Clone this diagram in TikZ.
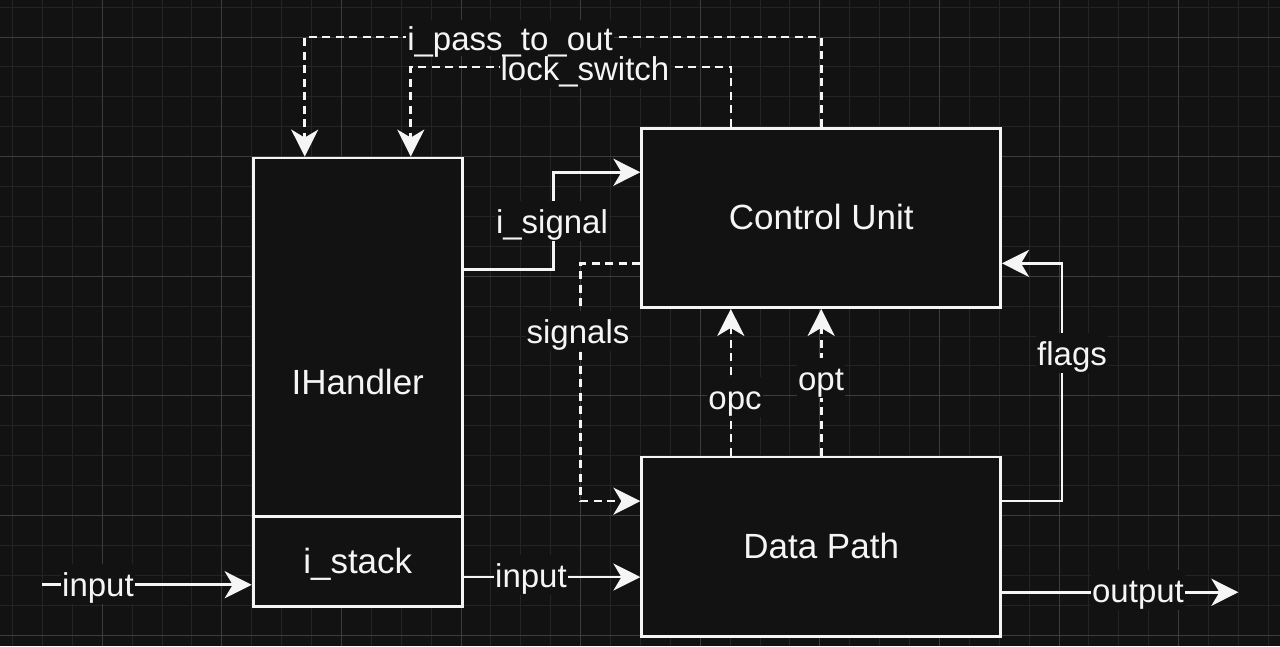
\documentclass[tikz,border=0pt]{standalone}
\usepackage{fontspec}
\setmainfont{Liberation Sans}
\usetikzlibrary{arrows.meta,calc}
\definecolor{bg}{RGB}{18,18,18}
\definecolor{gridminor}{RGB}{36,36,36}
\definecolor{gridmajor}{RGB}{60,60,60}
\definecolor{fg}{RGB}{245,245,245}
\begin{document}
\begin{tikzpicture}[x=1pt,y=-1pt,
  box/.style={draw=fg, fill=bg, line width=2.8pt, text=fg, font=\fontsize{35}{42}\selectfont,
    anchor=north west, inner sep=0pt, text height=31.2pt, text depth=7pt},
  lbl/.style={fill=bg, text=fg, font=\fontsize{33}{40}\selectfont, inner xsep=1pt, inner ysep=1pt,
    text height=30.8pt, text depth=6.6pt},
  sline/.style={draw=fg, line width=2.6pt, -{Stealth[length=27pt,width=27pt,inset=8pt]}},
  dline/.style={sline, dash pattern=on 8pt off 5.5pt},
  gmin/.style={draw=gridminor, line width=1pt},
  gmaj/.style={draw=gridmajor, line width=1pt},
]
\useasboundingbox (0,0) rectangle (1280,646);
\fill[bg] (0,0) rectangle (1280,646);
% grid
\foreach \k in {0,...,42}{
  \pgfmathsetmacro\gx{12.5+29.9*\k}
  \draw[gmin] (\gx,0) -- (\gx,646);
}
\foreach \k in {0,...,21}{
  \pgfmathsetmacro\gy{7.1+29.9*\k}
  \draw[gmin] (0,\gy) -- (1280,\gy);
}
\foreach \k in {3,7,...,39}{
  \pgfmathsetmacro\gx{12.5+29.9*\k}
  \draw[gmaj] (\gx,0) -- (\gx,646);
}
\foreach \k in {0,...,5}{
  \pgfmathsetmacro\gy{37+119.6*\k}
  \draw[gmaj] (0,\gy) -- (1280,\gy);
}
% boxes
\node[box, minimum width=209.3pt, minimum height=448.4pt] (ih) at (251.7,156.6) {IHandler};
\node[box, minimum width=209.3pt, minimum height=89.7pt] (st) at (251.7,515.4) {i\_stack};
\node[box, minimum width=358.8pt, minimum height=179.4pt] (cu) at (640.4,126.7) {Control Unit};
\node[box, minimum width=358.8pt, minimum height=179.4pt] (dp) at (640.4,455.6) {Data Path};
% coordinates
\coordinate (row1) at (0,37);
\coordinate (row2) at (0,66.9);
\coordinate (ihA) at ($(ih.north west)!0.25!(ih.north east)$);
\coordinate (ihB) at ($(ih.north west)!0.75!(ih.north east)$);
\coordinate (cuA) at ($(cu.north west)!0.25!(cu.north east)$);
\coordinate (ihR) at ($(ih.north east)!0.25!(ih.south east)$);
\coordinate (cuL1) at ($(cu.north west)!0.25!(cu.south west)$);
\coordinate (cuL3) at ($(cu.north west)!0.75!(cu.south west)$);
\coordinate (dpL1) at ($(dp.north west)!0.25!(dp.south west)$);
\coordinate (dpL2) at ($(dp.north west)!0.6667!(dp.south west)$);
\coordinate (dpA) at ($(dp.north west)!0.25!(dp.north east)$);
\coordinate (dpR1) at ($(dp.north east)!0.25!(dp.south east)$);
\coordinate (dpR3) at ($(dp.north east)!0.75!(dp.south east)$);
\coordinate (cuR3) at ($(cu.north east)!0.75!(cu.south east)$);
\coordinate (stL) at ($(st.north west)!0.75!(st.south west)$);
\coordinate (inStart) at (42.4,0);
\coordinate (outEnd) at (1238.4,0);
% connectors
\draw[dline] (cu.north) -- (cu.north |- row1) -- (ihA |- row1) -- (ihA);
\draw[dline] (cuA) -- (cuA |- row2) -- (ihB |- row2) -- (ihB);
\draw[sline] (ihR) -- ++(89.7,0) |- (cuL1);
\draw[dline] (cuL3) -- ++(-59.8,0) |- (dpL1);
\draw[dline] (dpA) -- (dpA |- cu.south);
\draw[dline] (dp.north) -- (cu.south);
\draw[sline] (dpR1) -- ++(59.8,0) |- (cuR3);
\draw[sline] (dpR3) -- (outEnd |- dpR3);
\draw[sline] (inStart |- stL) -- (stL);
\draw[sline] (dpL2 -| st.east) -- (dpL2);
% labels
\node[lbl] (lLock) at (585,68) {lock\_switch};
\node[lbl, text depth=5pt, inner ysep=0pt] (lPass) at (510,37.8) {i\_pass\_to\_out};
\node[lbl] (lIsig) at (552,221) {i\_signal};
\node[lbl] (lSigs) at (578,331) {signals};
\node[lbl] (lOpc) at (735,397) {opc};
\node[lbl] (lOpt) at (821,378) {opt};
\node[lbl] (lFlags) at (1072,353) {flags};
\node[lbl] (lOut) at (1138,590) {output};
\node[lbl] (lIn2) at (531,575) {input};
\node[lbl] (lIn1) at (98,584) {input};
\end{tikzpicture}
\end{document}
